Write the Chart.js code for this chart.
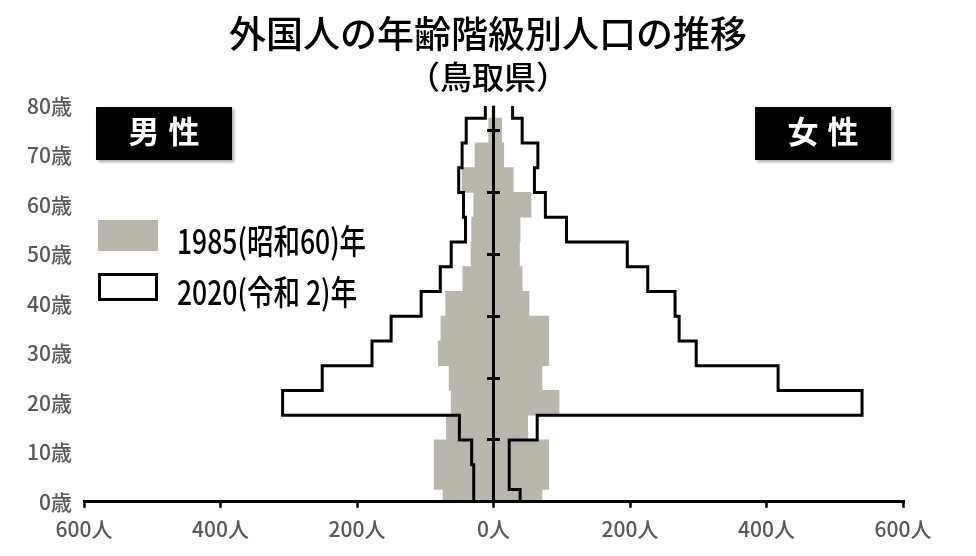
<!DOCTYPE html>
<html lang="ja">
<head>
<meta charset="utf-8">
<title>外国人の年齢階級別人口の推移（鳥取県）</title>
<script src="https://cdn.jsdelivr.net/npm/chart.js@4.4.1/dist/chart.umd.min.js"></script>
<style>
  html, body { margin: 0; padding: 0; background: #fff; }
  #wrap { position: relative; width: 976px; height: 556px; }
  /* 男性 / 女性 tags sitting in the upper corners of the plot */
  .tag {
    position: absolute; top: 107px; width: 136px; height: 53px;
    background: #000; color: #fff; text-align: center; line-height: 53px;
    font: bold 31px "Noto Sans CJK JP", sans-serif; letter-spacing: 9px; text-indent: 9px;
    box-shadow: 2px 2px 3px rgba(0, 0, 0, 0.35);
  }
  .legend-swatch { position: absolute; left: 98px; width: 60px; box-sizing: border-box; }
  /* the original lettering is a tall, condensed face: squeeze a larger size */
  .legend-text {
    position: absolute; left: 177px; height: 40px; line-height: 40px; color: #000;
    font: 500 34px "Noto Sans CJK JP", sans-serif; white-space: pre;
    transform: scaleX(0.78); transform-origin: 0 50%;
  }
</style>
</head>
<body>
<div id="wrap">
  <canvas id="pyramid"></canvas>
  <div class="tag" style="left:96px">男性</div>
  <div class="tag" style="left:755px">女性</div>
  <div class="legend-swatch" style="top:220px;height:31px;background:#b9b7ac"></div>
  <div class="legend-text" style="top:215px">1985(昭和60)年</div>
  <div class="legend-swatch" style="top:273px;height:28px;border:3px solid #000;background:#fff"></div>
  <div class="legend-text" style="top:266px">2020(令和 2)年</div>
</div>
<script>
// Five-year age groups, placed at the group's lower age (0 = 0-4歳 ... 80 = 80歳以上).
const ages = [0, 5, 10, 15, 20, 25, 30, 35, 40, 45, 50, 55, 60, 65, 70, 75, 80];

// Persons per group.
const male1985 = [74, 87, 87, 69, 62, 65, 81, 77, 70, 45, 33, 32, 29, 46, 27, 7, 1];
const female1985 = [71, 81, 81, 50, 96, 71, 81, 81, 52, 42, 38, 39, 55, 29, 15, 12, 1];
const male2020 = [29, 29, 32, 50, 309, 251, 178, 150, 106, 78, 62, 41, 44, 51, 46, 40, 12];
const female2020 = [39, 23, 23, 64, 540, 417, 297, 272, 266, 226, 196, 107, 76, 60, 65, 42, 28];

const xTicks = [-600, -400, -200, 0, 200, 400, 600];
const yTicks = [0, 10, 20, 30, 40, 50, 60, 70, 80];
const centerTicks = [12.5, 25, 37.5, 50, 62.5, 75];

const GRAY = "#b9b7ac";
const LABEL = "#595959";
const CJK = '"Noto Sans CJK JP", sans-serif';

// The 2020 outline is a staircase: each group holds its value from the midpoint
// below it to the midpoint above it (clamped to the axis ends).
function staircase(values, sign) {
  const pts = [];
  const last = ages.length - 1;
  values.forEach((v, i) => {
    const lo = i === 0 ? ages[0] : (ages[i - 1] + ages[i]) / 2;
    const hi = i === last ? ages[last] : (ages[i] + ages[i + 1]) / 2;
    pts.push({ x: sign * v, y: lo }, { x: sign * v, y: hi });
  });
  return pts;
}

const bars = (values, sign) => values.map((v, i) => ({ x: sign * v, y: ages[i] }));

const grayBar = {
  type: "bar",
  backgroundColor: GRAY,
  borderWidth: 0,
  barPercentage: 1,
  categoryPercentage: 1,
  grouped: false,
  xAxisID: "x",
  yAxisID: "y",
  order: 2,
};
const outline = {
  type: "line",
  borderColor: "#000",
  borderWidth: 3,
  pointRadius: 0,
  fill: false,
  tension: 0,
  xAxisID: "x",
  yAxisID: "y",
  order: 1,
};

new Chart(document.getElementById("pyramid").getContext("2d"), {
  type: "bar",
  data: {
    datasets: [
      { ...grayBar, label: "1985 男", data: bars(male1985, -1) },
      { ...grayBar, label: "1985 女", data: bars(female1985, 1) },
      { ...outline, label: "2020 男", data: staircase(male2020, -1) },
      { ...outline, label: "2020 女", data: staircase(female2020, 1) },
    ],
  },
  options: {
    indexAxis: "y",
    responsive: true,
    maintainAspectRatio: false,
    animation: false,
    layout: { padding: { left: 0, right: 0, top: 0, bottom: 5 } },
    scales: {
      x: {
        type: "linear",
        min: -600,
        max: 600,
        afterBuildTicks: (s) => { s.ticks = xTicks.map((value) => ({ value })); },
        ticks: {
          callback: (v) => `${Math.abs(v)}人`,
          color: LABEL,
          font: { family: CJK, size: 21, weight: "500" },
          padding: 9,
          maxRotation: 0,
          autoSkip: false,
        },
        // only the zero line is drawn: it is the pyramid's centre axis, on top of the bars
        grid: {
          z: 1,
          color: (c) => (c.tick && c.tick.value === 0 ? "#000" : "rgba(0,0,0,0)"),
          lineWidth: 3,
          tickLength: 6,
          tickColor: "#000",
          tickWidth: 2.5,
        },
        border: { z: 1, color: "#000", width: 3 },
      },
      y: {
        type: "linear",
        min: 0,
        max: 80,
        offset: false,
        afterBuildTicks: (s) => { s.ticks = yTicks.map((value) => ({ value })); },
        afterFit: (s) => { s.width = 84; },
        ticks: {
          callback: (v) => `${v}歳`,
          color: LABEL,
          font: { family: CJK, size: 21, weight: "500" },
          padding: 12,
        },
        grid: { display: false, drawTicks: false, offset: false },
        border: { display: false },
      },
      // short marks crossing the centre axis
      y2: {
        type: "linear",
        min: 0,
        max: 80,
        offset: false,
        position: { x: 9.5 },
        afterBuildTicks: (s) => { s.ticks = centerTicks.map((value) => ({ value })); },
        ticks: { display: false },
        grid: { z: 2, drawOnChartArea: false, offset: false, tickLength: 13, tickColor: "#000", tickWidth: 3 },
        border: { display: false },
      },
      // empty right-hand margin, so the title stays centred on the whole page
      yR: {
        type: "linear",
        position: "right",
        min: 0,
        max: 80,
        offset: false,
        afterFit: (s) => { s.width = 73; },
        ticks: { display: false },
        grid: { display: false, drawTicks: false },
        border: { display: false },
      },
    },
    plugins: {
      legend: { display: false },
      tooltip: { enabled: false },
      title: {
        display: true,
        text: "外国人の年齢階級別人口の推移",
        color: "#000",
        font: { family: CJK, size: 37, weight: "500", lineHeight: 1.2 },
        padding: { top: 12, bottom: 1 },
      },
      subtitle: {
        display: true,
        text: "（鳥取県）",
        color: "#000",
        font: { family: CJK, size: 32, weight: "500", lineHeight: 1.2 },
        padding: { top: 0, bottom: 10 },
      },
    },
  },
});
</script>
</body>
</html>
